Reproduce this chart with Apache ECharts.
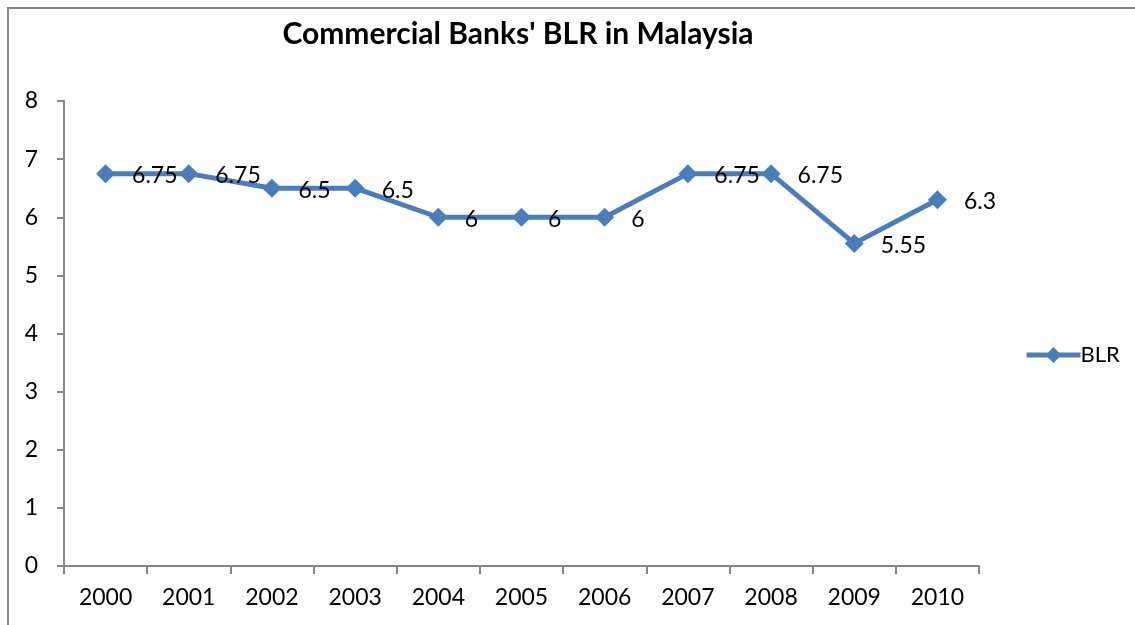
<!DOCTYPE html>
<html>
<head>
	<meta charset="utf-8">
	<title>Commercial Banks' BLR in Malaysia</title>
	<script src="https://cdn.jsdelivr.net/npm/echarts@6/dist/echarts.min.js"></script>
	<style>
		html, body { margin: 0; padding: 0; background: #fff; }
		#chart { width: 1135px; height: 625px; }
	</style>
</head>
<body>
	<div id="chart"></div>
	<script>
		// data
		var years = ['2000', '2001', '2002', '2003', '2004', '2005', '2006', '2007', '2008', '2009', '2010'];
		var blr = [6.75, 6.75, 6.5, 6.5, 6, 6, 6, 6.75, 6.75, 5.55, 6.3];
		var yTicks = [0, 1, 2, 3, 4, 5, 6, 7, 8];

		var font = 'Lato, "Open Sans", sans-serif';
		var axisGray = '#868686';
		var blue = '#4a7ebb';

		var chart = echarts.init(document.getElementById('chart'));
		chart.setOption({
			animation: false,
			textStyle: { fontFamily: font },
			// chart frame, cropped on the right and bottom
			graphic: [{
				type: 'rect',
				shape: { x: 8, y: 8, width: 1200, height: 700 },
				style: { fill: 'none', stroke: axisGray, lineWidth: 2 },
				silent: true
			}],
			title: {
				text: "Commercial Banks' BLR in Malaysia",
				left: 513,
				textAlign: 'center',
				top: 14,
				textStyle: { fontFamily: font, fontWeight: 'bold', fontSize: 30, color: '#000' }
			},
			legend: {
				orient: 'vertical',
				left: 1019,
				top: 339,
				itemWidth: 54,
				itemHeight: 20,
				itemGap: 6,
				lineStyle: { width: 5 },
				textStyle: { fontFamily: font, fontSize: 22, color: '#000', padding: [0, 0, 0, -5] },
				data: ['BLR']
			},
			grid: { left: 64, right: 156, top: 101, bottom: 59 },
			xAxis: {
				type: 'category',
				data: years,
				boundaryGap: true,
				axisLine: { lineStyle: { color: axisGray, width: 2 } },
				axisTick: { show: true, length: 8, alignWithLabel: false, lineStyle: { color: axisGray, width: 2 } },
				axisLabel: { fontFamily: font, fontSize: 23, color: '#000', margin: 20 },
				splitLine: { show: false }
			},
			yAxis: {
				type: 'value',
				min: yTicks[0],
				max: yTicks[yTicks.length - 1],
				interval: 1,
				axisLine: { show: true, lineStyle: { color: axisGray, width: 2 } },
				axisTick: { show: true, length: 7, lineStyle: { color: axisGray, width: 2 } },
				axisLabel: { fontFamily: font, fontSize: 23, color: '#000', margin: 26 },
				splitLine: { show: false }
			},
			series: [{
				name: 'BLR',
				type: 'line',
				data: blr,
				symbol: 'diamond',
				symbolSize: 19,
				itemStyle: { color: blue },
				lineStyle: { color: blue, width: 5 },
				label: {
					show: true,
					position: 'right',
					distance: 17,
					offset: [0, 2],
					fontFamily: font,
					fontSize: 23,
					color: '#000'
				}
			}]
		});
	</script>
</body>
</html>
